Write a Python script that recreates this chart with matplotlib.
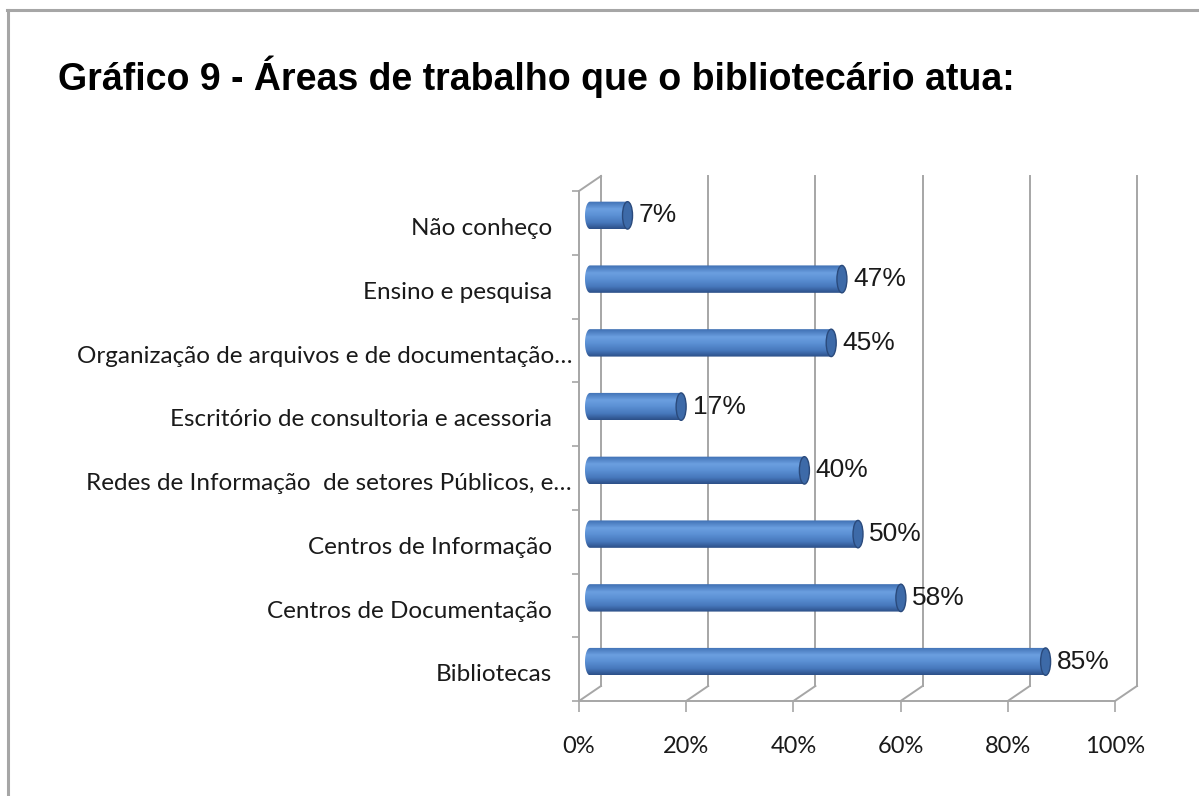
import numpy as np
import matplotlib.pyplot as plt
from matplotlib.path import Path
from matplotlib.patches import PathPatch, Ellipse
from matplotlib.lines import Line2D
from matplotlib.colors import LinearSegmentedColormap

# dados (de baixo para cima, como no Excel)
categorias = ["Bibliotecas", "Centros de Documentação", "Centros de Informação",
              "Redes de Informação  de setores Públicos, e…",
              "Escritório de consultoria e acessoria",
              "Organização de arquivos e de documentação…",
              "Ensino e pesquisa", "Não conheço"]
valores = [85, 58, 50, 40, 17, 45, 47, 7]
ticks_x = [0, 20, 40, 60, 80, 100]
rotulos_x = ["0%", "20%", "40%", "60%", "80%", "100%"]
titulo = "Gráfico 9 - Áreas de trabalho que o bibliotecário atua:"

W, H = 1199, 796
fig = plt.figure(figsize=(W / 100, H / 100), dpi=100)
fig.patch.set_facecolor("white")

# moldura cinza (so topo e esquerda aparecem)
fig.add_artist(Line2D([7 / W, 1], [1 - 10 / H, 1 - 10 / H], color="#a6a6a6", lw=2.2))
fig.add_artist(Line2D([8 / W, 8 / W], [0, 1 - 10 / H], color="#a6a6a6", lw=2.2))

fig.text(58 / W, 1 - 77 / H, titulo, fontsize=27, fontweight="bold",
         family="Liberation Sans", va="center", ha="left")

# plano frontal do grafico 3D
ax = fig.add_axes([579 / W, 1 - 701 / H, 536 / W, 510 / H])
n = len(categorias)
ax.set_xlim(0, 100)
ax.set_ylim(0, n)
cinza = "#a6a6a6"

# profundidade (deslocamento da parede do fundo) em unidades de dados
DX = 22 / 5.36
DY = 15 / 63.75

for t in ticks_x:
    ax.plot([t + DX, t + DX], [DY, n + DY], color=cinza, lw=1.4, clip_on=False, zorder=1)
    ax.plot([t, t + DX], [0, DY], color=cinza, lw=1.4, clip_on=False, zorder=1)
ax.plot([0, DX], [n, n + DY], color=cinza, lw=1.4, clip_on=False, zorder=1)

for s in ["top", "right"]:
    ax.spines[s].set_visible(False)
for s in ["left", "bottom"]:
    ax.spines[s].set_color(cinza)
    ax.spines[s].set_linewidth(1.4)

ax.set_yticks(np.arange(n + 1))
ax.set_yticklabels([])
ax.tick_params(axis="y", length=5, width=1.2, color=cinza)
ax.set_xticks(ticks_x)
ax.set_xticklabels(rotulos_x, fontsize=17, family="Lato", color="#1a1a1a")
ax.tick_params(axis="x", length=8, width=1.2, color=cinza, pad=17)

# cilindros
h = 0.43
cw = 5 / 5.36
pos = np.arange(n) + 0.5
cmap = LinearSegmentedColormap.from_list(
    "cil", [(0, "#3f70b3"), (0.28, "#6b9fe0"), (0.5, "#5c91d5"),
            (0.78, "#4677bb"), (1, "#2c4f88")])
barras = ax.barh(pos + DY / 2, valores, height=h, left=DX / 2,
                 color="#5287cc", zorder=3)
grad = np.linspace(0, 1, 64).reshape(-1, 1)
for r, v in zip(barras, valores):
    x0, y0, w, hh = r.get_x(), r.get_y(), r.get_width(), r.get_height()
    x1, yc = x0 + w, y0 + hh / 2
    th = np.linspace(np.pi / 2, 3 * np.pi / 2, 30)
    verts = [(x0, y0), (x1, y0), (x1, y0 + hh), (x0, y0 + hh)]
    verts += list(zip(x0 + cw * np.cos(th), yc + hh / 2 * np.sin(th)))
    verts.append((x0, y0))
    clip = PathPatch(Path(verts), transform=ax.transData, facecolor="none", edgecolor="none")
    ax.add_patch(clip)
    r.set_visible(False)
    im = ax.imshow(grad, cmap=cmap, aspect="auto", origin="upper",
                   extent=[x0 - cw, x1, y0, y0 + hh], zorder=3)
    im.set_clip_path(clip)
    ax.add_patch(Ellipse((x1, yc), 2 * cw, hh, facecolor="#3d6aa8",
                         edgecolor="#2a4a7c", lw=1, zorder=4))
    ax.text(x1 + cw + 1.2, yc, f"{v}%", fontsize=19, family="Liberation Sans",
            va="center", ha="left", color="#1a1a1a", zorder=5)

ax.set_xlim(0, 100)
ax.set_ylim(0, n)

# rotulos das categorias (um pouco abaixo do centro da faixa, como no original)
for p, c in zip(pos, categorias):
    dx = -1.3 if c.endswith("…") else -5.0
    ax.text(dx, p - 0.09, c, fontsize=17.5, family="Lato", ha="right", va="center",
            color="#1a1a1a", clip_on=False)

fig.savefig("out.png", dpi=100, facecolor="white")
